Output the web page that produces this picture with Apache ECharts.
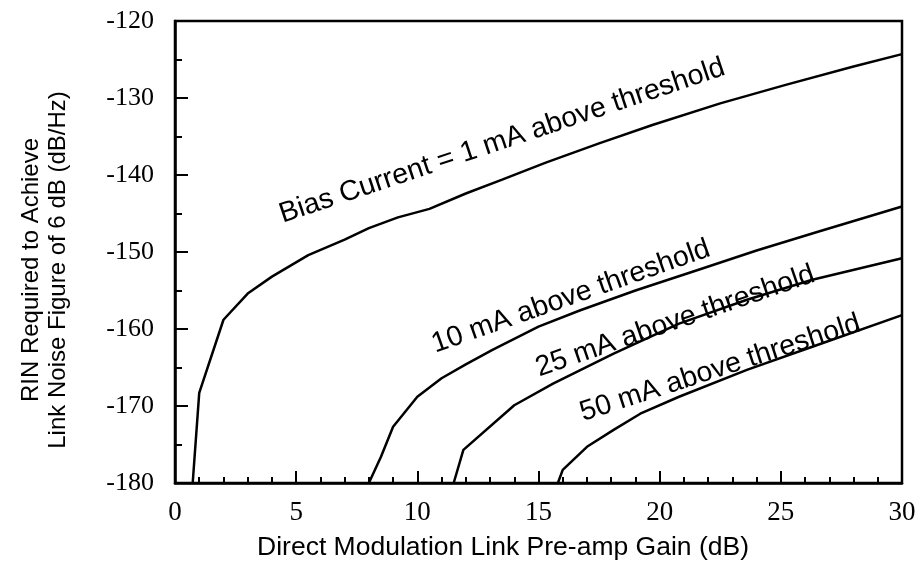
<!DOCTYPE html>
<html>
<head>
<meta charset="utf-8">
<script src="https://cdn.jsdelivr.net/npm/echarts@6/dist/echarts.min.js"></script>
<style>
html,body{margin:0;padding:0;background:#fff;}
#chart{width:922px;height:584px;}
</style>
</head>
<body>
<div id="chart"></div>
<script>
// ---- data ----
var gain1 = [0.73, 1.0, 2.0, 3.0, 4.0, 5.5, 7.0, 8.0, 9.2, 10.5, 12.0, 13.5, 15.3, 17.5, 19.7, 22.5, 25.2, 28.0, 30];
var rin1  = [-180, -168.3, -158.8, -155.4, -153.2, -150.4, -148.4, -146.9, -145.5, -144.4, -142.4, -140.6, -138.4, -135.9, -133.5, -130.7, -128.3, -125.9, -124.3];

var gain10 = [8.0, 8.5, 9.0, 10.0, 11.0, 12.0, 13.1, 15.0, 16.7, 19.0, 21.7, 24.0, 26.6, 30];
var rin10  = [-180, -176.6, -172.7, -168.8, -166.4, -164.6, -162.7, -159.7, -157.6, -155.0, -152.2, -149.8, -147.3, -144.1];

var gain25 = [11.5, 11.9, 14.0, 15.6, 18.1, 20.8, 23.6, 26.3, 30];
var rin25  = [-180, -175.7, -169.9, -167.1, -163.2, -159.3, -156.2, -153.6, -150.8];

var gain50 = [15.8, 16.0, 17.0, 18.1, 19.2, 20.8, 23.6, 26.3, 30];
var rin50  = [-180, -178.3, -175.3, -173.1, -171.0, -168.8, -165.3, -162.3, -158.2];

var curveLabels = [
  'Bias Current = 1 mA above threshold',
  '10 mA above threshold',
  '25 mA above threshold',
  '50 mA above threshold'
];
var xTitle = 'Direct Modulation Link Pre-amp Gain (dB)';
var yTitle = ['RIN Required to Achieve', 'Link Noise Figure of 6 dB (dB/Hz)'];

function zip(a, b) { return a.map(function (v, i) { return [v, b[i]]; }); }

var lineStyle = { color: '#000', width: 2.5 };
function mkSeries(name, gx, ry) {
  return {
    type: 'line', name: name, data: zip(gx, ry),
    showSymbol: false, symbol: 'none', smooth: false,
    lineStyle: lineStyle, animation: false, clip: true
  };
}

var chart = echarts.init(document.getElementById('chart'), null, { renderer: 'canvas' });

var option = {
  backgroundColor: '#fff',
  animation: false,
  grid: { left: 175, right: 20, top: 21, bottom: 101, show: true, borderColor: '#000', borderWidth: 2.5 },
  xAxis: {
    type: 'value', min: 0, max: 30, interval: 5,
    axisLine: { show: true, lineStyle: { color: '#000', width: 2.5 } },
    axisTick: { show: true, inside: true, length: 12, lineStyle: { color: '#000', width: 2 } },
    minorTick: { show: true, splitNumber: 5, length: 6, lineStyle: { color: '#000', width: 2 } },
    splitLine: { show: false },
    axisLabel: { color: '#000', fontFamily: 'Liberation Serif', fontSize: 27, margin: 16 }
  },
  yAxis: {
    type: 'value', min: -180, max: -120, interval: 10,
    axisLine: { show: true, lineStyle: { color: '#000', width: 2.5 } },
    axisTick: { show: true, inside: true, length: 13, lineStyle: { color: '#000', width: 2 } },
    minorTick: { show: true, splitNumber: 2, length: 7, lineStyle: { color: '#000', width: 2 } },
    splitLine: { show: false },
    axisLabel: { color: '#000', fontFamily: 'Liberation Serif', fontSize: 26, margin: 21,
      formatter: function (v) { return String(v); } }
  },
  series: [
    mkSeries(curveLabels[0], gain1, rin1),
    mkSeries(curveLabels[1], gain10, rin10),
    mkSeries(curveLabels[2], gain25, rin25),
    mkSeries(curveLabels[3], gain50, rin50)
  ]
};
chart.setOption(option);

// curve annotations anchored in data coordinates
var labelAnchors = [[13.5, -135.6], [16.34, -155.8], [20.64, -159.0], [22.5, -165.1]];
var labelAngles = [18.5, 19.4, 19.0, 18.0];
var graphics = labelAnchors.map(function (a, i) {
  var p = chart.convertToPixel({ gridIndex: 0 }, a);
  return {
    type: 'text', x: p[0], y: p[1], rotation: labelAngles[i] * Math.PI / 180,
    style: { text: curveLabels[i], fill: '#000', font: '28.5px "Liberation Sans"',
      textAlign: 'center', textVerticalAlign: 'middle' }
  };
});
graphics.push({
  type: 'text', x: 503, y: 548,
  style: { text: xTitle, fill: '#000', font: '26.5px "Liberation Sans"', textAlign: 'center', textVerticalAlign: 'middle' }
});
graphics.push({
  type: 'text', x: 45, y: 270, rotation: Math.PI / 2,
  style: { text: yTitle.join('\n'), fill: '#000', font: '24px "Liberation Sans"', lineHeight: 27,
    textAlign: 'center', textVerticalAlign: 'middle' }
});
chart.setOption({ graphic: graphics });
</script>
</body>
</html>
